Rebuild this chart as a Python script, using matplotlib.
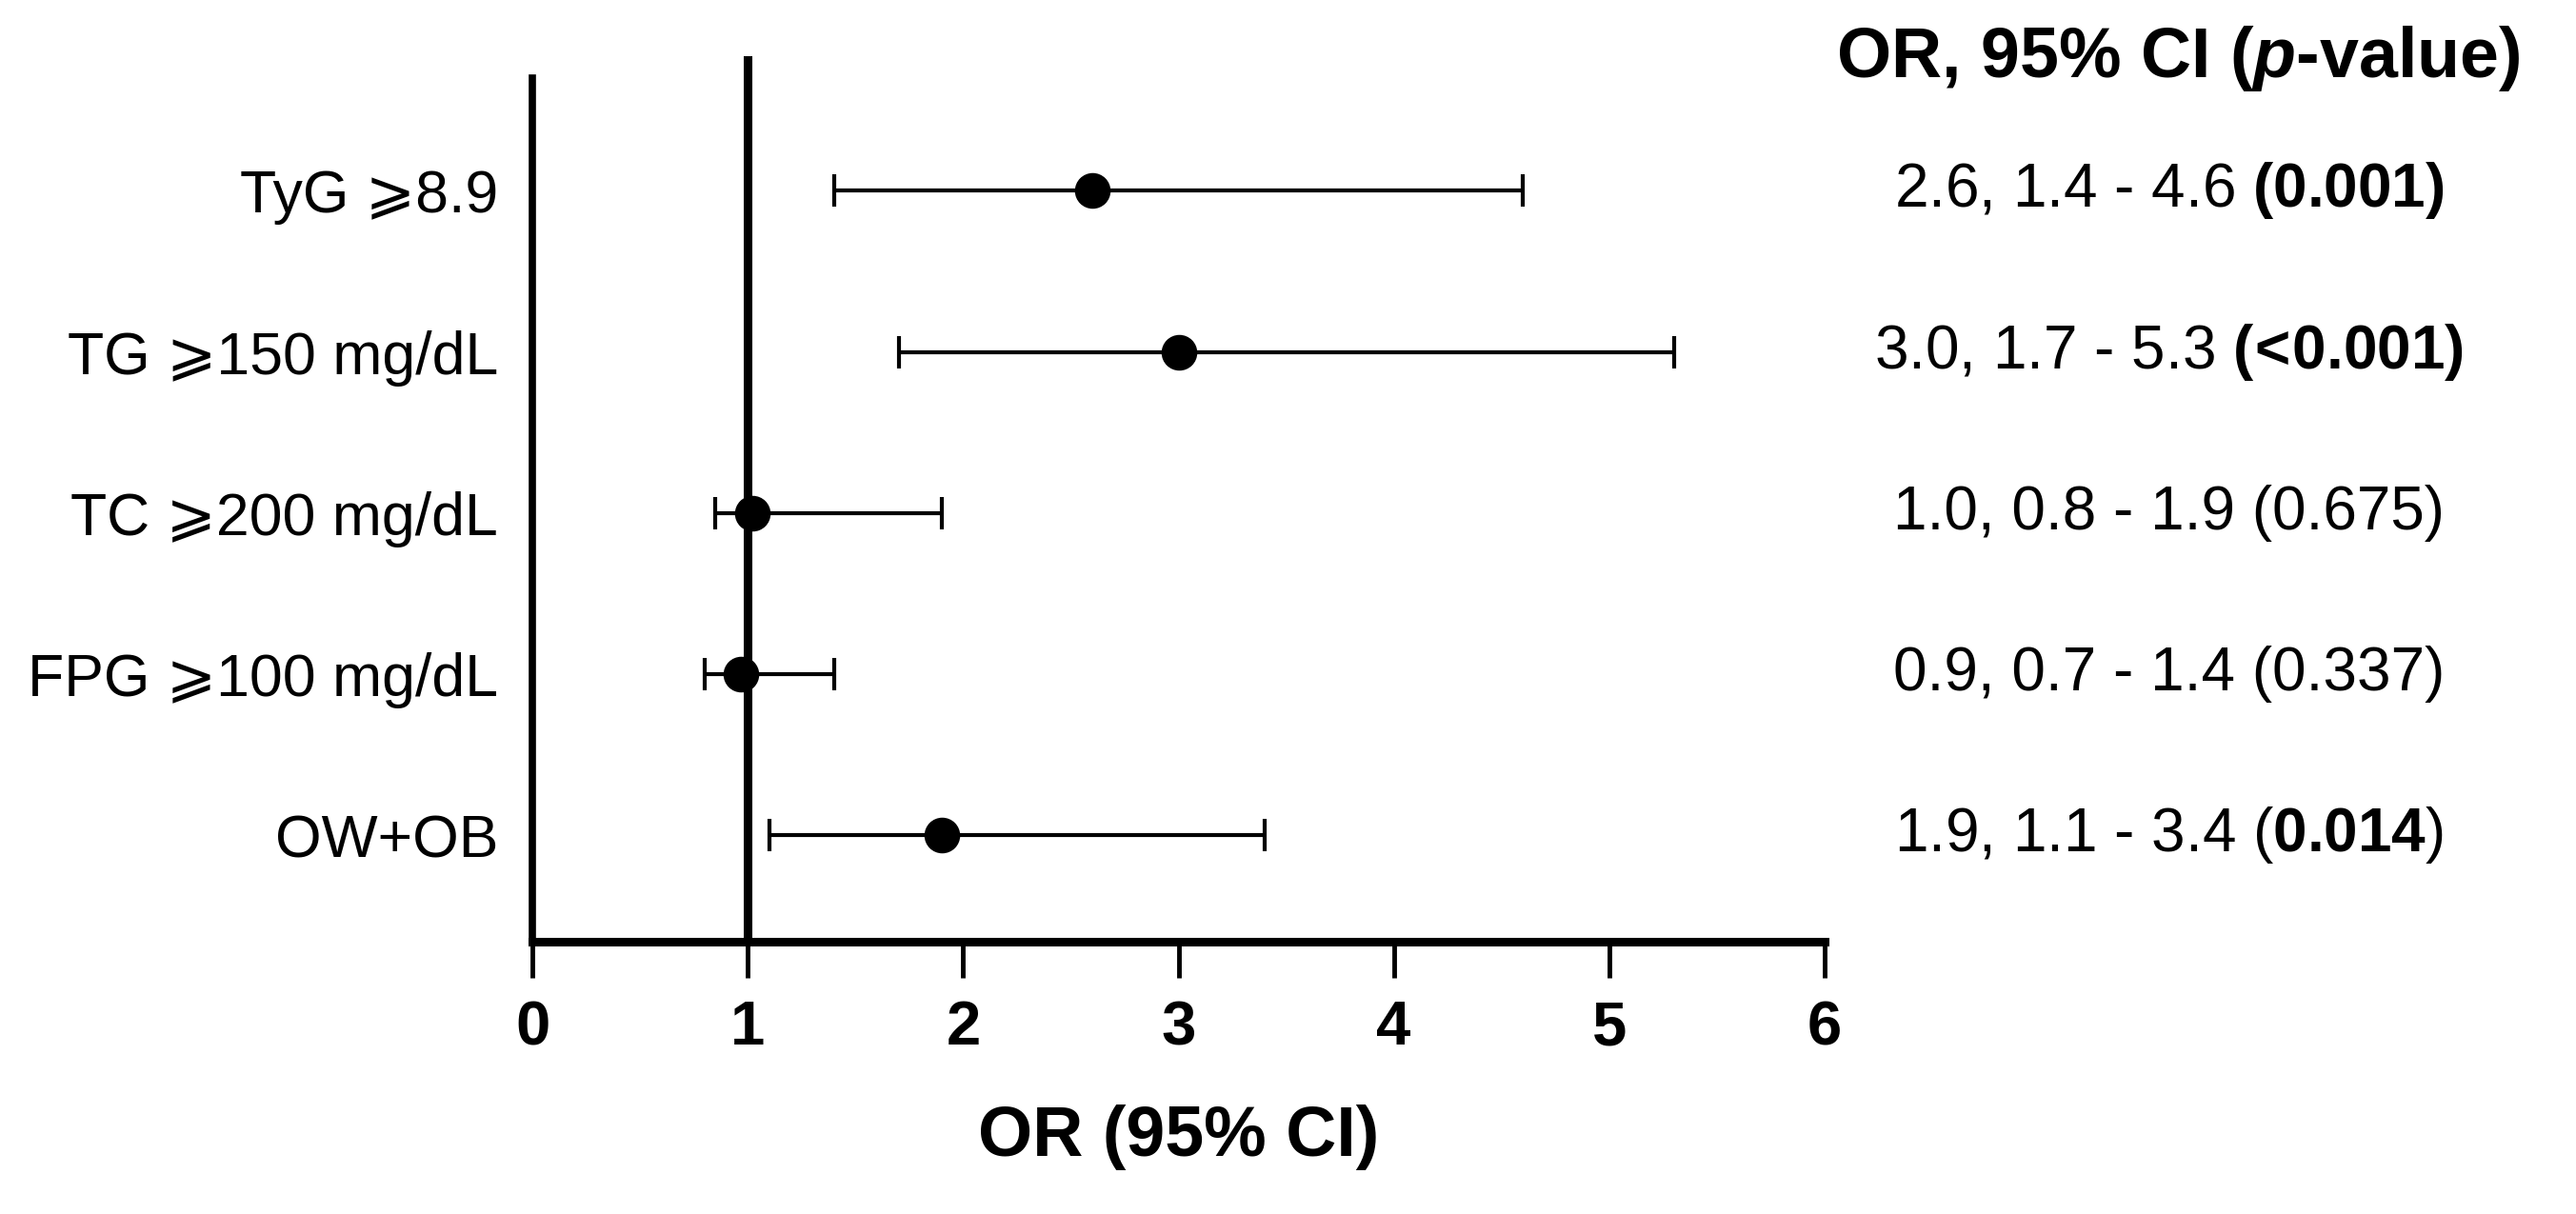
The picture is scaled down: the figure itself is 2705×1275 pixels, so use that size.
import numpy as np
import matplotlib
matplotlib.use("Agg")
import matplotlib.pyplot as plt

plt.rcParams['font.family'] = ['Liberation Sans', 'DejaVu Sans']
plt.rcParams['mathtext.fontset'] = 'custom'
plt.rcParams['mathtext.rm'] = 'Liberation Sans'
plt.rcParams['mathtext.bf'] = 'Liberation Sans:bold'
plt.rcParams['mathtext.it'] = 'Liberation Sans:italic:bold'

# data
labels = ["TyG \u2a7e8.9", "TG \u2a7e150 mg/dL", "TC \u2a7e200 mg/dL",
          "FPG \u2a7e100 mg/dL", "OW+OB"]
or_vals = np.array([2.6, 3.0, 1.02, 0.97, 1.9])
ci_low = np.array([1.4, 1.7, 0.85, 0.80, 1.1])
ci_high = np.array([4.6, 5.3, 1.9, 1.4, 3.4])
summary = ["2.6, 1.4 - 4.6 $\\bf{(0.001)}$",
           "3.0, 1.7 - 5.3 $\\bf{(\\!<\\!0.001)}$",
           "1.0, 0.8 - 1.9 (0.675)",
           "0.9, 0.7 - 1.4 (0.337)",
           "1.9, 1.1 - 3.4 (" + "$\\bf{0.014}$" + ")"]
xticks = [0, 1, 2, 3, 4, 5, 6]

ypos = np.arange(len(labels))

fig = plt.figure(figsize=(27.05, 12.75), dpi=100)
ax = fig.add_axes([0.2067, 0.2243, 0.7083 - 0.2067, 0.9357 - 0.2243])

ybot, ytop = 4.66, -0.70
ax.set_ylim(ybot, ytop)
ax.set_xlim(0, 6)

# reference line at OR = 1
ax.plot([1, 1], [ybot, -0.81], color='black', lw=6.5, clip_on=False, zorder=2)

ax.errorbar(or_vals, ypos, xerr=[or_vals - ci_low, ci_high - or_vals],
            fmt='o', color='black', ms=26, elinewidth=3, capsize=12.5,
            capthick=3, zorder=3)

for sp in ['top', 'right']:
    ax.spines[sp].set_visible(False)
ax.spines['left'].set_linewidth(5.5)
ax.spines['bottom'].set_linewidth(6.5)

ax.set_yticks(ypos)
ax.set_yticklabels(labels, fontsize=45)
ax.tick_params(axis='y', length=0, pad=26)

ax.set_xticks(xticks)
ax.set_xticklabels([str(t) for t in xticks], fontsize=47, fontweight='bold')
ax.tick_params(axis='x', length=27, width=3.5, pad=17)
ax.set_xlabel("OR (95% CI)", fontsize=53, fontweight='bold', labelpad=36)

for y, s in zip(ypos, summary):
    ax.text(7.60, y, s, fontsize=46, ha='center', va='center', clip_on=False)

ax.text(7.64, -0.82, "OR, 95% CI ($\\it{p}$-value)", fontsize=53,
        fontweight='bold', ha='center', va='center', clip_on=False)

fig.savefig("out.png", dpi=100)
